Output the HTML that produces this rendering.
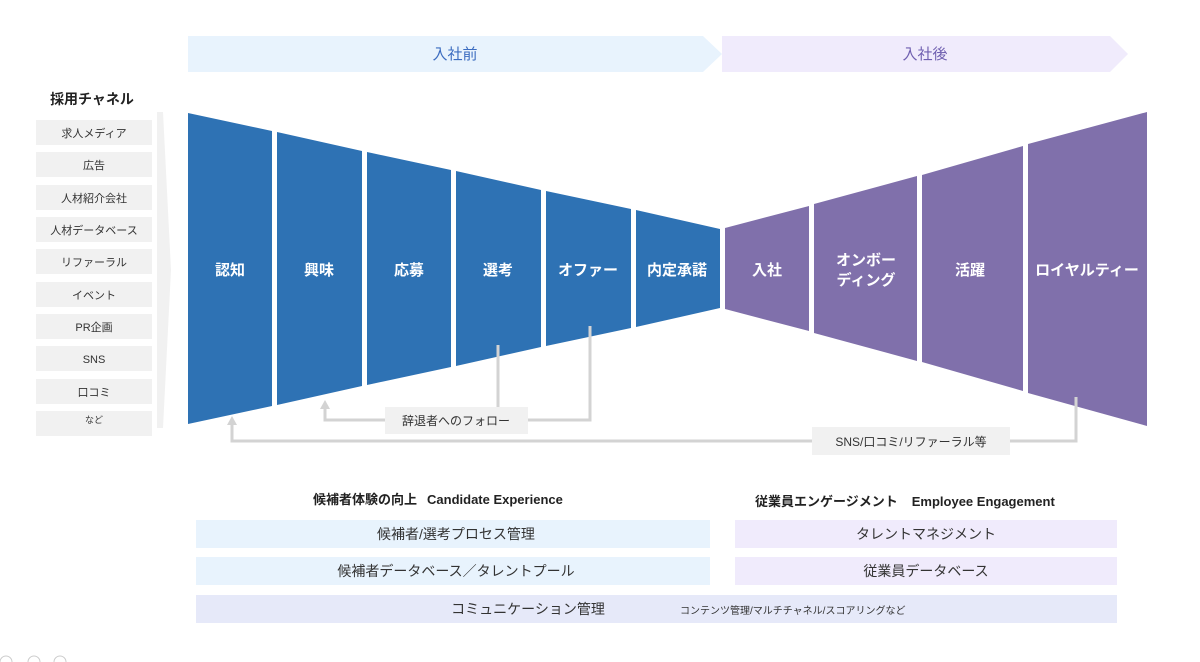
<!DOCTYPE html>
<html><head><meta charset="utf-8"><style>
html,body{margin:0;padding:0;background:#fff;}
svg{display:block;font-family:"Liberation Sans","Noto Sans CJK JP",sans-serif;}
</style></head><body>
<svg width="1200" height="662" viewBox="0 0 1200 662" xmlns="http://www.w3.org/2000/svg">
<polygon points="188,36 703,36 722,54 703,72 188,72" fill="#e8f3fd"/>
<polygon points="722,36 1110,36 1128,54 1110,72 722,72" fill="#f0ebfc"/>
<text x="455" y="59" font-size="15" fill="#3b6cc0" text-anchor="middle">入社前</text>
<text x="925" y="59" font-size="15" fill="#6f5fb0" text-anchor="middle">入社後</text>

<text x="92" y="104" font-size="14" font-weight="bold" fill="#222" text-anchor="middle">採用チャネル</text>
<g fill="#f1f1f1">
<rect x="36" y="120" width="116" height="25"/><rect x="36" y="152" width="116" height="25"/>
<rect x="36" y="185" width="116" height="25"/><rect x="36" y="217" width="116" height="25"/>
<rect x="36" y="249" width="116" height="25"/><rect x="36" y="282" width="116" height="25"/>
<rect x="36" y="314" width="116" height="25"/><rect x="36" y="346" width="116" height="25"/>
<rect x="36" y="379" width="116" height="25"/><rect x="36" y="411" width="116" height="25"/>
</g>
<g font-size="11" fill="#333" text-anchor="middle">
<text x="94" y="137">求人メディア</text><text x="94" y="169">広告</text>
<text x="94" y="202">人材紹介会社</text><text x="94" y="234">人材データベース</text>
<text x="94" y="266">リファーラル</text><text x="94" y="299">イベント</text>
<text x="94" y="331">PR企画</text><text x="94" y="363">SNS</text>
<text x="94" y="396">口コミ</text><text x="94" y="423" font-size="9">など</text>
</g>
<polygon points="157,112 163,112 171,270 163,428 157,428" fill="#f1f1f1"/>

<g fill="#2e72b4">
<polygon points="188,113 272,131 272,406 188,424"/>
<polygon points="277,132 362,151 362,386 277,405"/>
<polygon points="367,152 451,170 451,367 367,385"/>
<polygon points="456,171 541,190 541,347 456,366"/>
<polygon points="546,191 631,209 631,328 546,346"/>
<polygon points="636,210 720,229 720,308 636,327"/>
</g>
<g font-size="15" font-weight="bold" fill="#fff" text-anchor="middle">
<text x="230" y="275">認知</text><text x="319" y="275">興味</text>
<text x="409" y="275">応募</text><text x="498" y="275">選考</text>
<text x="588" y="275">オファー</text><text x="677" y="275">内定承諾</text>
</g>
<g fill="#8070ab">
<polygon points="725,228 809,206 809,331 725,309"/>
<polygon points="814,204 917,176 917,361 814,333"/>
<polygon points="922,175 1023,146 1023,391 922,362"/>
<polygon points="1028,144 1147,112 1147,426 1028,393"/>
</g>
<g font-size="15" font-weight="bold" fill="#fff" text-anchor="middle">
<text x="767" y="275">入社</text>
<text x="866" y="265">オンボー</text><text x="866" y="285">ディング</text>
<text x="970" y="275">活躍</text><text x="1087" y="275">ロイヤルティー</text>
</g>

<g stroke="#d3d3d3" stroke-width="3" fill="none">
<polyline points="498,345 498,420"/>
<polyline points="590,326 590,420 528,420"/>
<polyline points="385,420 325,420 325,408"/>
<polyline points="1076,397 1076,441 1010,441"/>
<polyline points="812,441 232,441 232,424"/>
</g>
<polygon points="325,400 320,409 330,409" fill="#d3d3d3"/>
<polygon points="232,416 227,425 237,425" fill="#d3d3d3"/>
<rect x="385" y="407" width="143" height="27" fill="#f1f1f1"/>
<text x="456" y="425" font-size="12" fill="#333" text-anchor="middle">辞退者へのフォロー</text>
<rect x="812" y="427" width="198" height="28" fill="#f1f1f1"/>
<text x="911" y="446" font-size="12" fill="#333" text-anchor="middle">SNS/口コミ/リファーラル等</text>

<text x="313" y="504" font-size="13" font-weight="bold" fill="#222">候補者体験の向上<tspan dx="10">Candidate Experience</tspan></text>
<text x="755" y="506" font-size="13" font-weight="bold" fill="#222">従業員エンゲージメント<tspan dx="14">Employee Engagement</tspan></text>
<rect x="196" y="520" width="514" height="28" fill="#e8f3fd"/>
<rect x="196" y="557" width="514" height="28" fill="#e8f3fd"/>
<rect x="735" y="520" width="382" height="28" fill="#f0ebfc"/>
<rect x="735" y="557" width="382" height="28" fill="#f0ebfc"/>
<rect x="196" y="595" width="921" height="28" fill="#e6e9f9"/>
<g font-size="14" fill="#333" text-anchor="middle">
<text x="456" y="539">候補者/選考プロセス管理</text>
<text x="456" y="576">候補者データベース／タレントプール</text>
<text x="926" y="539">タレントマネジメント</text>
<text x="926" y="576">従業員データベース</text>
<text x="528" y="614">コミュニケーション管理</text>
</g>
<text x="680" y="614" font-size="10" fill="#333">コンテンツ管理/マルチチャネル/スコアリングなど</text>
<g fill="none" stroke="#ccc" stroke-width="1">
<circle cx="6" cy="662" r="6"/><circle cx="34" cy="662" r="6"/><circle cx="60" cy="662" r="6"/>
</g>
</svg>
</body></html>
